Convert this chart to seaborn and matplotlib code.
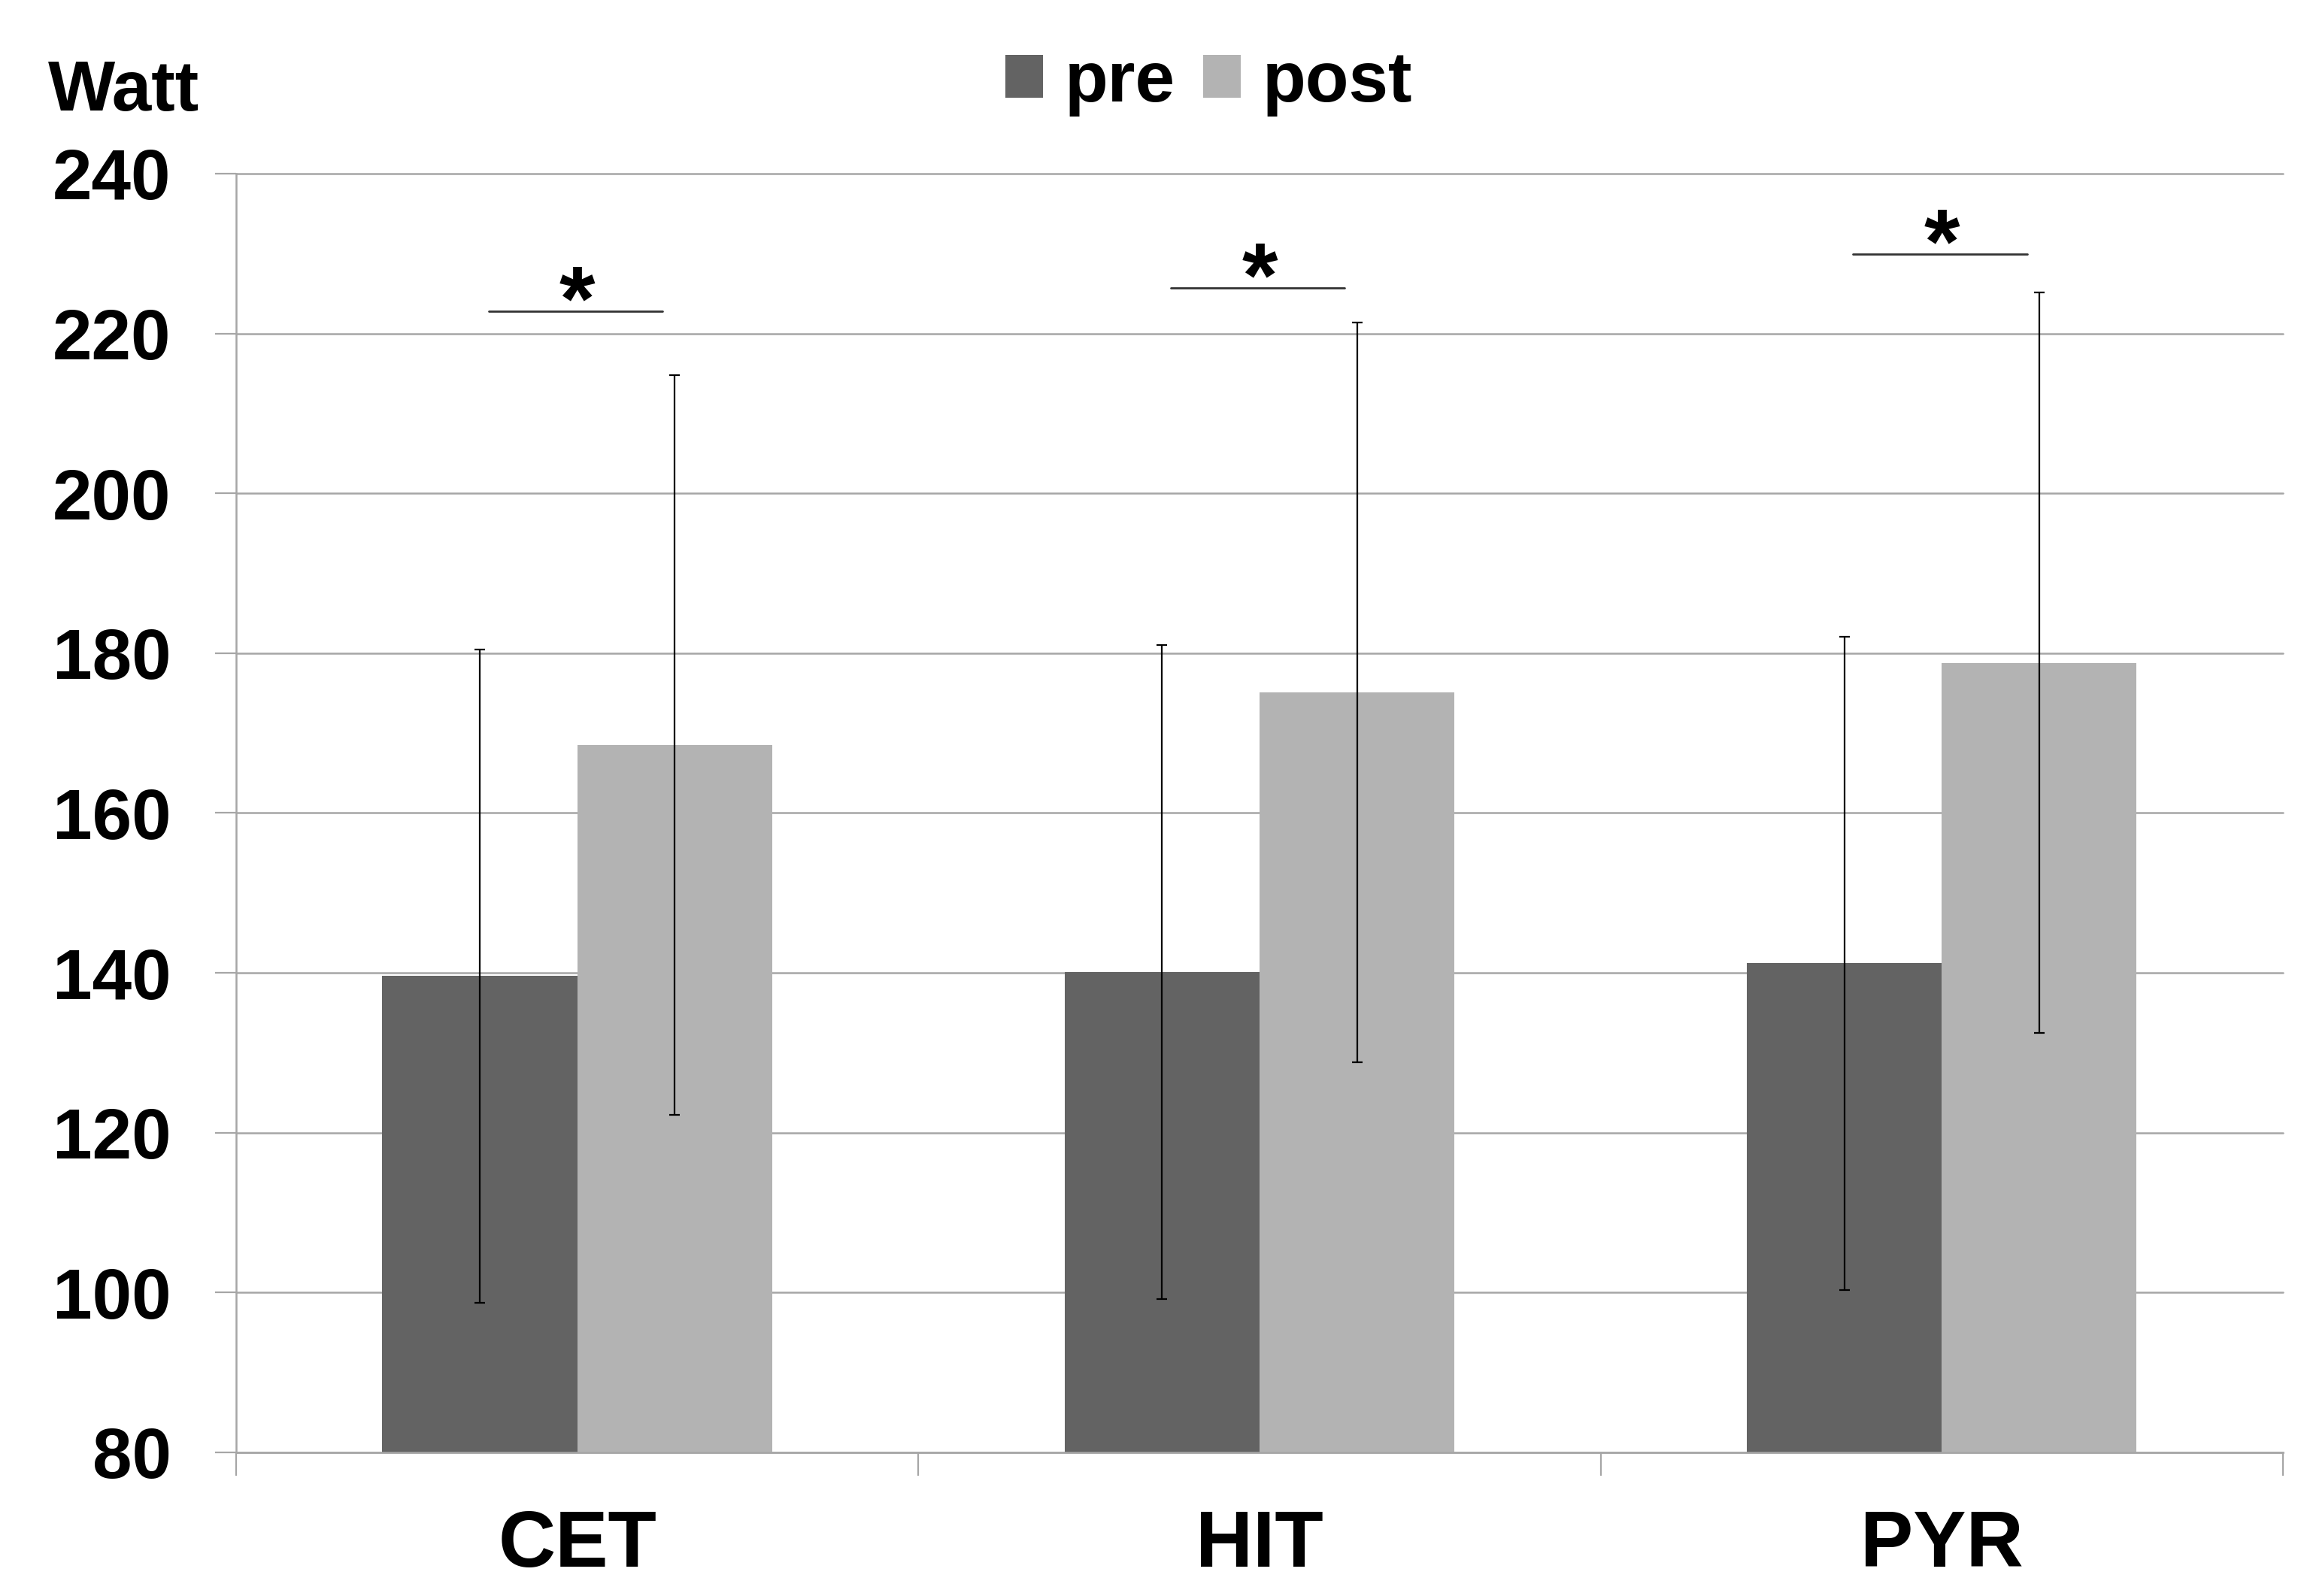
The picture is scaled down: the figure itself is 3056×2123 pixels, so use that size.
import numpy as np
import pandas as pd
import matplotlib
matplotlib.use("Agg")
import matplotlib.pyplot as plt
import seaborn as sns

groups = ["CET", "HIT", "PYR"]
pre_mean = [139.6, 140.1, 141.2]
pre_sd = [40.9, 40.9, 40.9]
post_mean = [168.5, 175.1, 178.8]
post_sd = [46.3, 46.3, 46.3]
sig_y = [222.8, 225.7, 229.9]
yticks = [80, 100, 120, 140, 160, 180, 200, 220, 240]

df = pd.DataFrame({
    "group": groups * 2,
    "time": ["pre"] * 3 + ["post"] * 3,
    "watt": pre_mean + post_mean,
    "sd": pre_sd + post_sd,
})

sns.set_style("white")
plt.rcParams["font.family"] = ["Liberation Sans", "DejaVu Sans"]
plt.rcParams["font.weight"] = "bold"
plt.rcParams["text.color"] = "black"
plt.rcParams["xtick.labelcolor"] = "black"
plt.rcParams["ytick.labelcolor"] = "black"

grid_col = "#a6a6a6"

fig = plt.figure(figsize=(15.28, 10.615), dpi=200)
ax = fig.add_axes([0.1027, 0.09, 0.8908, 0.8012])

sns.barplot(data=df, x="group", y="watt", hue="time",
            palette=["#636363", "#b3b3b3"], width=0.571, gap=0,
            errorbar=None, saturation=1, linewidth=0, ax=ax, zorder=2)

# error bars at bar centres
sds = [pre_sd, post_sd]
for cont, sd in zip(ax.containers, sds):
    xs = [b.get_x() + b.get_width() / 2 for b in cont]
    ys = [b.get_height() for b in cont]
    ax.errorbar(xs, ys, yerr=sd, fmt="none", ecolor="black",
                elinewidth=0.8, capsize=2.4, capthick=0.8, zorder=3)

# significance lines
for i, y in enumerate(sig_y):
    ax.plot([i - 0.13, i + 0.125], [y, y], color="#333333", lw=1.0, zorder=3)
    ax.text(i, y - 2.3, "*", ha="center", va="baseline",
            fontsize=44, fontweight="bold", color="black")

ax.set_ylim(80, 240)
ax.set_xlim(-0.5, 2.5)
ax.set_yticks(yticks)
ax.set_yticklabels([str(t) for t in yticks])
ax.set_xlabel("")
ax.set_ylabel("")

ax.yaxis.grid(True, color=grid_col, lw=0.9, zorder=0)
ax.set_axisbelow(True)
for gl in ax.get_ygridlines():
    gl.set_clip_on(False)

ax.set_xticks([0.5 + k - 1 for k in range(4)], minor=True)
ax.tick_params(axis="x", which="major", length=0, pad=27, labelsize=38)
ax.tick_params(axis="x", which="minor", length=11, width=0.8,
               color=grid_col, direction="out", bottom=True)
ax.tick_params(axis="y", which="major", length=10, width=0.8,
               color=grid_col, direction="out", pad=21, labelsize=34, left=True)
for lab in ax.get_xticklabels() + ax.get_yticklabels():
    lab.set_fontweight("bold")
    lab.set_color("black")

for s in ["top", "right"]:
    ax.spines[s].set_visible(False)
for s in ["left", "bottom"]:
    ax.spines[s].set_color(grid_col)
    ax.spines[s].set_linewidth(0.9)

handles, labels = ax.get_legend_handles_labels()
ax.get_legend().remove()
leg = fig.legend(handles, labels, loc="center", bbox_to_anchor=(0.526, 0.948),
                 ncol=2, frameon=False, handlelength=0.53,
                 handleheight=0.56, handletextpad=0.3, columnspacing=0.4,
                 prop={"weight": "bold", "size": 34})
for t in leg.get_texts():
    t.set_color("black")

fig.text(0.0209, 0.9308, "Watt", fontsize=34, fontweight="bold",
         ha="left", va="baseline", color="black")

fig.savefig("out.png", dpi=200)
